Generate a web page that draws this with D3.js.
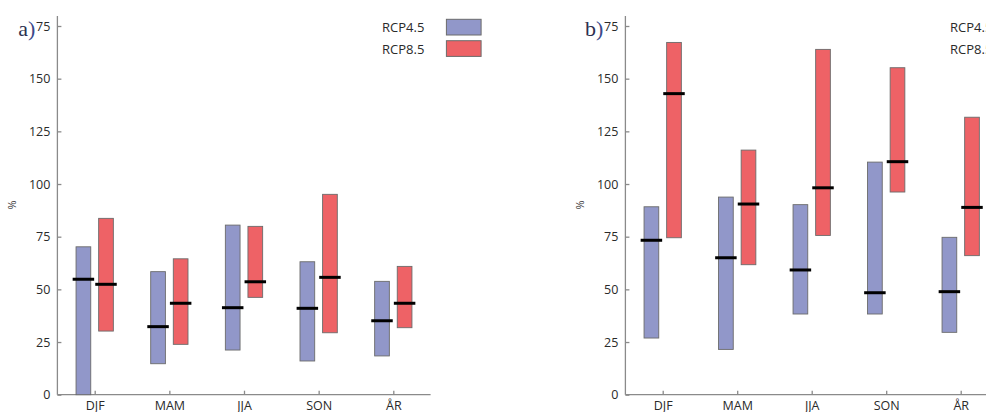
<!DOCTYPE html>
<html>
<head>
<meta charset="utf-8">
<script src="https://cdn.jsdelivr.net/npm/d3@7"></script>
<style>
  body { margin: 0; background: #fff; }
  svg { display: block; }
  .tick text { font-family: "Open Sans", "DejaVu Sans", sans-serif; font-size: 12.5px; fill: #2a2a2a; }
</style>
</head>
<body>
<div id="chart"></div>
<script>
// seasons on the x axis
var seasons = ["DJF", "MAM", "JJA", "SON", "ÅR"];
var yTicks = [0, 25, 50, 75, 100, 125, 150, 175];
var scenarios = ["RCP4.5", "RCP8.5"];

// panel a) - low / high / median, %
var aLow45  = [0, 14.7, 21.2, 16.0, 18.4];
var aHigh45 = [70.2, 58.4, 80.5, 63.1, 53.8];
var aMed45  = [54.8, 32.3, 41.3, 41.0, 35.1];
var aLow85  = [30.2, 23.9, 46.2, 29.4, 31.8];
var aHigh85 = [83.7, 64.5, 79.9, 95.1, 60.9];
var aMed85  = [52.4, 43.4, 53.6, 55.7, 43.4];

// panel b)
var bLow45  = [26.9, 21.5, 38.3, 38.3, 29.6];
var bHigh45 = [89.2, 93.8, 90.2, 110.4, 74.7];
var bMed45  = [73.3, 65.0, 59.2, 48.4, 48.9];
var bLow85  = [74.5, 61.7, 75.6, 96.2, 66.0];
var bHigh85 = [167.2, 116.1, 163.9, 155.2, 131.7];
var bMed85  = [142.9, 90.5, 98.2, 110.6, 88.9];

var colors = ["#9197c9", "#ee6266"];

var width = 986, height = 412;
var svg = d3.select("#chart").append("svg")
    .attr("width", width)
    .attr("height", height);

function panel(left, right, letter, series)
{
    var x = d3.scalePoint()
        .domain(seasons)
        .range([left + 37.3, right - 37.3]);
    var y = d3.scaleLinear()
        .domain([0, 175])
        .range([394.7, 26]);

    var g = svg.append("g");

    // y axis, ticks pointing inward
    var yAxis = g.append("g")
        .attr("transform", "translate(" + left + ",0)")
        .call(d3.axisLeft(y).tickValues(yTicks).tickSizeInner(-4).tickSizeOuter(0).tickPadding(7));
    yAxis.select(".domain").attr("d", "M0," + y(0) + "V16");
    yAxis.selectAll("line, .domain").attr("stroke", "#8a8a8a").attr("stroke-width", 1.3);

    var xAxis = g.append("g")
        .attr("transform", "translate(0," + y(0) + ")")
        .call(d3.axisBottom(x).tickSizeInner(-4).tickSizeOuter(0).tickPadding(6));
    xAxis.select(".domain").attr("d", "M" + left + ",0H" + right);
    xAxis.selectAll("line, .domain").attr("stroke", "#8a8a8a").attr("stroke-width", 1.3);

    var barW = 14.7, off = 11.3, medW = 21.5;
    series.forEach(function (s, k) {
        var dx = k === 0 ? -off : off;
        var rows = seasons.map(function (c, i) {
            return { c: c, lo: s.low[i], hi: s.high[i], med: s.med[i] };
        });
        g.selectAll(".bar" + k)
            .data(rows)
          .enter().append("rect")
            .attr("x", function (d) { return x(d.c) + dx - barW / 2; })
            .attr("y", function (d) { return y(d.hi); })
            .attr("width", barW)
            .attr("height", function (d) { return y(d.lo) - y(d.hi); })
            .style("fill", colors[k])
            .style("stroke", "#6b6b6b")
            .style("stroke-width", 0.9);
        g.selectAll(".med" + k)
            .data(rows)
          .enter().append("line")
            .attr("x1", function (d) { return x(d.c) + dx - medW / 2; })
            .attr("x2", function (d) { return x(d.c) + dx + medW / 2; })
            .attr("y1", function (d) { return y(d.med); })
            .attr("y2", function (d) { return y(d.med); })
            .style("stroke", "#000")
            .style("stroke-width", 3);
    });

    // "%" label
    g.append("text")
        .attr("transform", "translate(" + (left - 41) + ",205) rotate(-90)")
        .attr("text-anchor", "middle")
        .style("font-family", "Open Sans, DejaVu Sans, sans-serif")
        .style("font-size", "11px")
        .style("fill", "#333")
        .text("%");

    // panel letter sits over the "1" of 175
    var top = yAxis.selectAll(".tick text").filter(function (d) { return d === 175; }).node();
    var bb = top.getBBox();
    var x0 = left + bb.x - 7;   // bbox is relative to the tick which is at -4 + padding
    var oneX = left - 7 - bb.width; // left edge of "175"
    g.append("rect")
        .attr("x", oneX - 1).attr("y", 16)
        .attr("width", 7).attr("height", 24)
        .style("fill", "#fff");
    g.append("text")
        .attr("x", oneX - 1)
        .attr("y", 36)
        .attr("text-anchor", "end")
        .style("font-family", "Liberation Serif, DejaVu Serif, serif")
        .style("font-size", "22px")
        .style("fill", "#2c3050")
        .text(letter);
    g.append("text")
        .attr("x", oneX - 1)
        .attr("y", 36)
        .style("font-family", "Liberation Serif, DejaVu Serif, serif")
        .style("font-size", "22px")
        .style("fill", "#3b4a8a")
        .text(")");

    // legend
    var leg = g.selectAll(".leg")
        .data(scenarios)
      .enter().append("g")
        .attr("transform", function (d, i) { return "translate(" + (left + 389) + "," + (19.3 + i * 21.4) + ")"; });
    leg.append("rect")
        .attr("width", 34.7).attr("height", 15.7)
        .style("fill", function (d, i) { return colors[i]; })
        .style("stroke", "#6b6b6b")
        .style("stroke-width", 1);
    leg.append("text")
        .attr("x", -22)
        .attr("y", 13)
        .attr("text-anchor", "end")
        .style("font-family", "Open Sans, DejaVu Sans, sans-serif")
        .style("font-size", "13px")
        .style("fill", "#2a2a2a")
        .text(function (d) { return d; });
}

panel(57.4, 430.6, "a", [
    { low: aLow45, high: aHigh45, med: aMed45 },
    { low: aLow85, high: aHigh85, med: aMed85 }
]);
panel(625.4, 998, "b", [
    { low: bLow45, high: bHigh45, med: bMed45 },
    { low: bLow85, high: bHigh85, med: bMed85 }
]);
</script>
</body>
</html>
